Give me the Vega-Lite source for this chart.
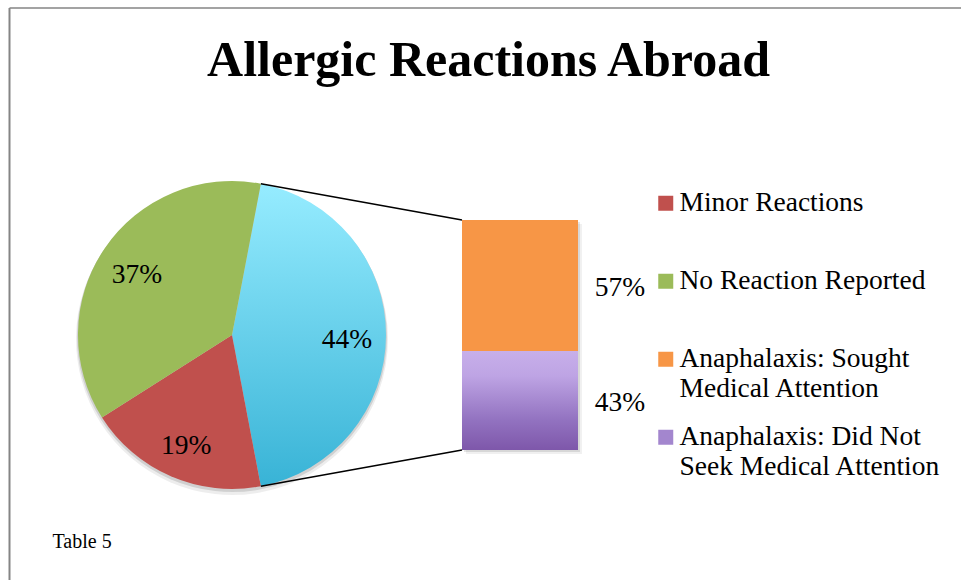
{
  "$schema": "https://vega.github.io/schema/vega-lite/v6.json",
  "autosize": "none",
  "width": 952,
  "height": 572.5,
  "padding": {"left": 9, "top": 7.5, "right": 0, "bottom": 0},
  "background": "white",
  "title": {
    "text": "Allergic Reactions Abroad",
    "font": "Liberation Serif",
    "fontSize": 50,
    "fontWeight": "bold",
    "color": "#000000",
    "anchor": "middle",
    "frame": "group",
    "baseline": "alphabetic",
    "offset": -118,
    "dx": 3.5
  },
  "datasets": {
    "overall": [
      {"chart": "All respondents", "category": "Anaphalaxis", "share": 0.44},
      {"chart": "All respondents", "category": "Minor Reactions", "share": 0.19},
      {"chart": "All respondents", "category": "No Reaction Reported", "share": 0.37}
    ],
    "anaphalaxis": [
      {"chart": "Anaphalaxis", "category": "Anaphalaxis: Sought Medical Attention", "share": 0.57},
      {"chart": "Anaphalaxis", "category": "Anaphalaxis: Did Not Seek Medical Attention", "share": 0.43}
    ]
  },
  "layer": [
    {
      "data": {"name": "overall"},
      "mark": {"type": "arc", "outerRadius": 156, "fill": "#000000", "opacity": 0.07, "yOffset": 4},
      "encoding": {
        "theta": {"field": "share", "type": "quantitative", "stack": true, "scale": {"range": [0.1885, 6.47168]}},
        "order": {"field": "category", "sort": "ascending"},
        "x": {"field": "chart", "type": "nominal", "title": null, "scale": {"type": "band", "domain": ["All respondents", "Anaphalaxis"], "paddingInner": 0.5, "paddingOuter": 0.90278, "align": 0.29038}, "axis": {"orient": "top"}},
        "y": {"datum": 0.5, "type": "quantitative", "title": "Table 5", "scale": {"domain": [-0.56522, 1.92391], "nice": false, "zero": false}}
      }
    },
    {
      "data": {"name": "overall"},
      "mark": {"type": "arc", "outerRadius": 155, "fill": "#000000", "opacity": 0.12, "yOffset": 2},
      "encoding": {
        "theta": {"field": "share", "type": "quantitative", "stack": true, "scale": {"range": [0.1885, 6.47168]}},
        "order": {"field": "category", "sort": "ascending"},
        "x": {"field": "chart", "type": "nominal", "title": null, "scale": {"type": "band", "domain": ["All respondents", "Anaphalaxis"], "paddingInner": 0.5, "paddingOuter": 0.90278, "align": 0.29038}, "axis": {"orient": "top"}},
        "y": {"datum": 0.5, "type": "quantitative", "title": "Table 5", "scale": {"domain": [-0.56522, 1.92391], "nice": false, "zero": false}}
      }
    },
    {
      "data": {"name": "overall"},
      "mark": {"type": "arc", "outerRadius": 154},
      "encoding": {
        "theta": {"field": "share", "type": "quantitative", "stack": true, "scale": {"range": [0.1885, 6.47168]}},
        "order": {"field": "category", "sort": "ascending"},
        "x": {"field": "chart", "type": "nominal", "title": null, "scale": {"type": "band", "domain": ["All respondents", "Anaphalaxis"], "paddingInner": 0.5, "paddingOuter": 0.90278, "align": 0.29038}, "axis": {"orient": "top"}},
        "y": {"datum": 0.5, "type": "quantitative", "title": "Table 5", "scale": {"domain": [-0.56522, 1.92391], "nice": false, "zero": false}},
        "color": {
          "field": "category",
          "type": "nominal",
          "scale": {
            "domain": ["Minor Reactions", "No Reaction Reported", "Anaphalaxis: Sought Medical Attention", "Anaphalaxis: Did Not Seek Medical Attention", "Anaphalaxis"],
            "range": ["#C0504D", "#9BBB59", "#F79646", "#A386CE", "#4BACC6"]
          },
          "legend": {
            "values": ["Minor Reactions", "No Reaction Reported", "Anaphalaxis: Sought Medical Attention", "Anaphalaxis: Did Not Seek Medical Attention"],
            "labelExpr": "datum.label === 'Anaphalaxis: Sought Medical Attention' ? ['Anaphalaxis: Sought', 'Medical Attention'] : datum.label === 'Anaphalaxis: Did Not Seek Medical Attention' ? ['Anaphalaxis: Did Not', 'Seek Medical Attention'] : [datum.label, '']"
          },
          "condition": {
            "test": "datum.category === 'Anaphalaxis'",
            "value": {"gradient": "linear", "x1": 0, "y1": 0, "x2": 0, "y2": 1, "stops": [{"offset": 0, "color": "#96ECFF"}, {"offset": 1, "color": "#38B3D6"}]}
          }
        }
      }
    },
    {
      "data": {"name": "anaphalaxis"},
      "mark": {"type": "bar", "width": 116, "fill": "#000000", "opacity": 0.06, "xOffset": 4, "yOffset": 4},
      "encoding": {
        "x": {"field": "chart", "type": "nominal", "title": null, "scale": {"type": "band", "domain": ["All respondents", "Anaphalaxis"], "paddingInner": 0.5, "paddingOuter": 0.90278, "align": 0.29038}, "axis": {"orient": "top"}},
        "y": {"field": "share", "type": "quantitative", "stack": "zero", "title": "Table 5", "scale": {"domain": [-0.56522, 1.92391], "nice": false, "zero": false}},
        "order": {"field": "category", "sort": "ascending"}
      }
    },
    {
      "data": {"name": "anaphalaxis"},
      "mark": {"type": "bar", "width": 116, "fill": "#000000", "opacity": 0.1, "xOffset": 2, "yOffset": 2},
      "encoding": {
        "x": {"field": "chart", "type": "nominal", "title": null, "scale": {"type": "band", "domain": ["All respondents", "Anaphalaxis"], "paddingInner": 0.5, "paddingOuter": 0.90278, "align": 0.29038}, "axis": {"orient": "top"}},
        "y": {"field": "share", "type": "quantitative", "stack": "zero", "title": "Table 5", "scale": {"domain": [-0.56522, 1.92391], "nice": false, "zero": false}},
        "order": {"field": "category", "sort": "ascending"}
      }
    },
    {
      "data": {"name": "anaphalaxis"},
      "mark": {"type": "bar", "width": 116},
      "encoding": {
        "x": {"field": "chart", "type": "nominal", "title": null, "scale": {"type": "band", "domain": ["All respondents", "Anaphalaxis"], "paddingInner": 0.5, "paddingOuter": 0.90278, "align": 0.29038}, "axis": {"orient": "top"}},
        "y": {"field": "share", "type": "quantitative", "stack": "zero", "title": "Table 5", "scale": {"domain": [-0.56522, 1.92391], "nice": false, "zero": false}},
        "order": {"field": "category", "sort": "ascending"},
        "color": {
          "field": "category",
          "type": "nominal",
          "scale": {
            "domain": ["Minor Reactions", "No Reaction Reported", "Anaphalaxis: Sought Medical Attention", "Anaphalaxis: Did Not Seek Medical Attention", "Anaphalaxis"],
            "range": ["#C0504D", "#9BBB59", "#F79646", "#A386CE", "#4BACC6"]
          },
          "legend": {
            "values": ["Minor Reactions", "No Reaction Reported", "Anaphalaxis: Sought Medical Attention", "Anaphalaxis: Did Not Seek Medical Attention"],
            "labelExpr": "datum.label === 'Anaphalaxis: Sought Medical Attention' ? ['Anaphalaxis: Sought', 'Medical Attention'] : datum.label === 'Anaphalaxis: Did Not Seek Medical Attention' ? ['Anaphalaxis: Did Not', 'Seek Medical Attention'] : [datum.label, '']"
          },
          "condition": {
            "test": "datum.category === 'Anaphalaxis: Did Not Seek Medical Attention'",
            "value": {"gradient": "linear", "x1": 0, "y1": 0, "x2": 0, "y2": 1, "stops": [{"offset": 0, "color": "#C7AFEA"}, {"offset": 0.25, "color": "#BEA4E4"}, {"offset": 0.7, "color": "#9272C0"}, {"offset": 1, "color": "#7E57AA"}]}
          }
        }
      }
    },
    {
      "data": {"name": "overall"},
      "transform": [{"filter": "datum.category === 'Anaphalaxis'"}],
      "mark": {"type": "rule", "color": "#000000", "strokeWidth": 1.5, "xOffset": 28.86, "yOffset": -151.27, "x2Offset": -58},
      "encoding": {
        "x": {"field": "chart", "type": "nominal", "title": null, "scale": {"type": "band", "domain": ["All respondents", "Anaphalaxis"], "paddingInner": 0.5, "paddingOuter": 0.90278, "align": 0.29038}, "axis": {"orient": "top"}},
        "x2": {"datum": "Anaphalaxis"},
        "y": {"datum": 0.5, "type": "quantitative", "title": "Table 5", "scale": {"domain": [-0.56522, 1.92391], "nice": false, "zero": false}},
        "y2": {"datum": 1}
      }
    },
    {
      "data": {"name": "overall"},
      "transform": [{"filter": "datum.category === 'Anaphalaxis'"}],
      "mark": {"type": "rule", "color": "#000000", "strokeWidth": 1.5, "xOffset": 28.86, "yOffset": 151.27, "x2Offset": -58},
      "encoding": {
        "x": {"field": "chart", "type": "nominal", "title": null, "scale": {"type": "band", "domain": ["All respondents", "Anaphalaxis"], "paddingInner": 0.5, "paddingOuter": 0.90278, "align": 0.29038}, "axis": {"orient": "top"}},
        "x2": {"datum": "Anaphalaxis"},
        "y": {"datum": 0.5, "type": "quantitative", "title": "Table 5", "scale": {"domain": [-0.56522, 1.92391], "nice": false, "zero": false}},
        "y2": {"datum": 0}
      }
    },
    {
      "data": {"name": "overall"},
      "mark": {"type": "text", "radius": 115, "font": "Liberation Serif", "fontSize": 27.5, "color": "#000000", "align": "center", "baseline": "middle", "dy": 5},
      "encoding": {
        "theta": {"field": "share", "type": "quantitative", "stack": true, "scale": {"range": [0.1885, 6.47168]}},
        "order": {"field": "category", "sort": "ascending"},
        "x": {"field": "chart", "type": "nominal", "title": null, "scale": {"type": "band", "domain": ["All respondents", "Anaphalaxis"], "paddingInner": 0.5, "paddingOuter": 0.90278, "align": 0.29038}, "axis": {"orient": "top"}},
        "y": {"datum": 0.5, "type": "quantitative", "title": "Table 5", "scale": {"domain": [-0.56522, 1.92391], "nice": false, "zero": false}},
        "text": {"field": "share", "type": "quantitative", "format": ".0%"}
      }
    },
    {
      "data": {"name": "anaphalaxis"},
      "transform": [
        {"stack": "share", "groupby": ["chart"], "sort": [{"field": "category", "order": "ascending"}], "as": ["lo", "hi"]},
        {"fold": ["lo", "hi"], "as": ["edge", "pos"]},
        {"aggregate": [{"op": "mean", "field": "pos", "as": "mid"}, {"op": "max", "field": "share", "as": "share"}], "groupby": ["chart", "category"]}
      ],
      "mark": {"type": "text", "font": "Liberation Serif", "fontSize": 27.5, "color": "#000000", "align": "center", "baseline": "middle", "dx": 100, "dy": 2},
      "encoding": {
        "x": {"field": "chart", "type": "nominal", "title": null, "scale": {"type": "band", "domain": ["All respondents", "Anaphalaxis"], "paddingInner": 0.5, "paddingOuter": 0.90278, "align": 0.29038}, "axis": {"orient": "top"}},
        "y": {"field": "mid", "type": "quantitative", "title": "Table 5", "scale": {"domain": [-0.56522, 1.92391], "nice": false, "zero": false}},
        "text": {"field": "share", "type": "quantitative", "format": ".0%"}
      }
    }
  ],
  "config": {
    "view": {"stroke": null},
    "axis": {"labels": false, "ticks": false, "grid": false, "domain": true, "domainColor": "#858585"},
    "axisX": {"domainWidth": 1.5},
    "axisY": {
      "domainWidth": 2,
      "titleAngle": 0,
      "titleAlign": "left",
      "titleBaseline": "alphabetic",
      "titleX": 43,
      "titleY": 539.5,
      "titleFont": "Liberation Serif",
      "titleFontSize": 20,
      "titleFontWeight": "normal",
      "titleColor": "#000000"
    },
    "legend": {
      "orient": "none",
      "legendX": 643,
      "legendY": 182,
      "title": null,
      "symbolType": "square",
      "symbolSize": 225,
      "symbolStrokeWidth": 0,
      "labelFont": "Liberation Serif",
      "labelFontSize": 27.5,
      "labelColor": "#000000",
      "labelOffset": 0,
      "labelLimit": 500,
      "rowPadding": 20,
      "encode": {
        "symbols": {
          "update": {
            "fill": [
              {"test": "datum.value === 'Anaphalaxis: Did Not Seek Medical Attention'", "value": {"gradient": "linear", "x1": 0, "y1": 0, "x2": 0, "y2": 1, "stops": [{"offset": 0, "color": "#C7AFEA"}, {"offset": 1, "color": "#7E57AA"}]}},
              {"scale": "color", "field": "value"}
            ]
          }
        }
      }
    }
  }
}
